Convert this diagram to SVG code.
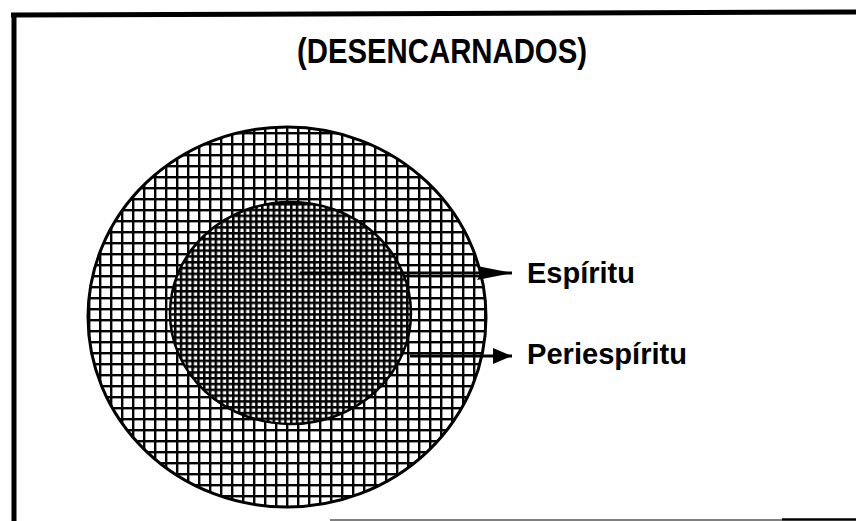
<svg xmlns="http://www.w3.org/2000/svg" width="856" height="521" viewBox="0 0 856 521">
  <style>
    .lbl { font-family: "Liberation Sans", Arial, sans-serif; font-weight: bold; fill: #000; }
    .frame { stroke: #000; fill: none; }
    .conn { stroke: #000; stroke-width: 3; fill: none; }
  </style>
  <defs>
    <pattern id="gridOuter" patternUnits="userSpaceOnUse" x="0" y="0" width="11" height="11">
      <rect width="11" height="11" fill="#fff"/>
      <rect x="0" y="0" width="2.4" height="11" fill="#000"/>
      <rect x="0" y="0" width="11" height="2.4" fill="#000"/>
    </pattern>
    <pattern id="gridInner" patternUnits="userSpaceOnUse" x="0" y="0" width="5.8" height="5.8">
      <rect width="5.8" height="5.8" fill="#fff"/>
      <rect x="0" y="0" width="2.5" height="5.8" fill="#000"/>
      <rect x="0" y="0" width="5.8" height="2.5" fill="#000"/>
    </pattern>
    <marker id="arrow" markerUnits="userSpaceOnUse" markerWidth="36" markerHeight="18" refX="35" refY="9" orient="auto">
      <path d="M0,2 L35,9 L0,16 L4,9 Z" fill="#000"/>
    </marker>
    <marker id="arrowSmall" markerUnits="userSpaceOnUse" markerWidth="20" markerHeight="18" refX="19" refY="9" orient="auto">
      <path d="M0,1 L19,9 L0,17 Z" fill="#000"/>
    </marker>
  </defs>
  <rect width="856" height="521" fill="#fff"/>
  <g id="frame">
    <line class="frame" x1="11" y1="15" x2="856" y2="12" stroke-width="5"/>
    <line class="frame" x1="14" y1="13" x2="14" y2="521" stroke-width="5"/>
    <line class="frame" x1="330" y1="520" x2="782" y2="520" stroke-width="1" stroke="#888"/>
    <line class="frame" x1="782" y1="519.5" x2="856" y2="519.5" stroke-width="2.5"/>
  </g>
  <g id="title">
    <text class="lbl" x="297" y="63" font-size="35" textLength="290" lengthAdjust="spacingAndGlyphs">(DESENCARNADOS)</text>
  </g>
  <g id="periespiritu-circle">
    <ellipse cx="287" cy="317" rx="199" ry="190" fill="url(#gridOuter)" stroke="#000" stroke-width="3"/>
  </g>
  <g id="espiritu-circle">
    <ellipse cx="290.5" cy="313" rx="120.5" ry="111" fill="url(#gridInner)" stroke="#000" stroke-width="2.5"/>
  </g>
  <g id="connectors">
    <line class="conn" x1="300" y1="273" x2="512" y2="273" marker-end="url(#arrow)"/>
    <line class="conn" x1="410" y1="356" x2="512" y2="356" marker-end="url(#arrowSmall)"/>
  </g>
  <g id="label-espiritu">
    <text class="lbl" x="527" y="283" font-size="29" textLength="108" lengthAdjust="spacingAndGlyphs">Espíritu</text>
  </g>
  <g id="label-periespiritu">
    <text class="lbl" x="527" y="364" font-size="29" textLength="160" lengthAdjust="spacingAndGlyphs">Periespíritu</text>
  </g>
</svg>
